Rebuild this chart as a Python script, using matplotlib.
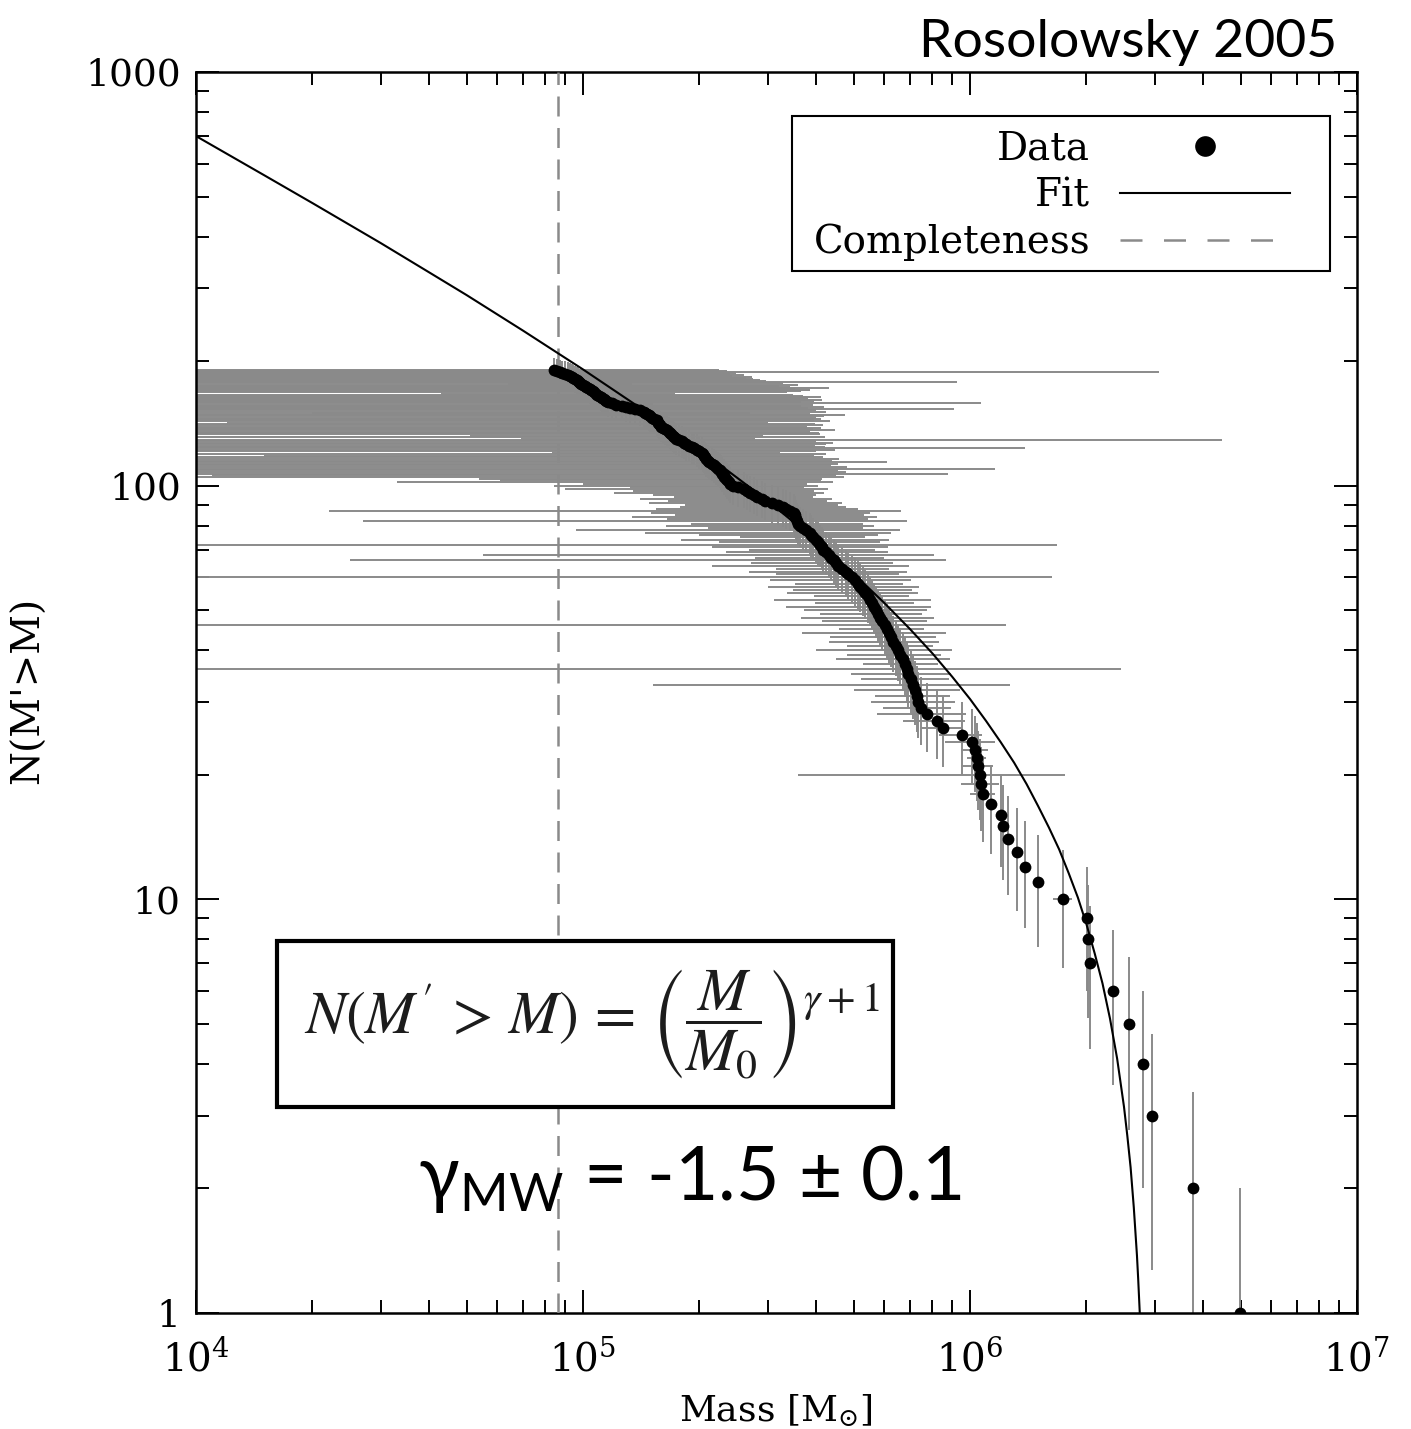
import numpy as np
import matplotlib
matplotlib.use('Agg')
import matplotlib.pyplot as plt
from matplotlib.patches import Rectangle
from matplotlib.lines import Line2D

# ---------------- data ----------------
# cloud masses (units of 1e5 Msun), sorted so that index i has N(M'>M) = i+1
mass_1e5 = [
    49.9, 37.7, 29.5, 28.0, 25.8, 23.4, 20.4, 20.2, 20.1, 17.4,
    15.0, 13.9, 13.2, 12.5, 12.2, 12.0, 11.3, 10.8, 10.7, 10.6,
    10.5, 10.4, 10.3, 10.1, 9.53, 8.52, 8.22, 7.74, 7.45, 7.35,
    7.28, 7.22, 7.12, 7.02, 6.92, 6.86, 6.78, 6.70, 6.60, 6.50,
    6.42, 6.33, 6.25, 6.18, 6.10, 6.02, 5.94, 5.86, 5.80, 5.72,
    5.64, 5.57, 5.52, 5.45, 5.36, 5.28, 5.20, 5.13, 5.04, 4.95,
    4.85, 4.78, 4.66, 4.56, 4.51, 4.45, 4.38, 4.31, 4.24, 4.18,
    4.15, 4.09, 4.04, 3.99, 3.94, 3.89, 3.85, 3.78, 3.70, 3.64,
    3.60, 3.57, 3.55, 3.54, 3.53, 3.50, 3.42, 3.34, 3.28, 3.20,
    3.08, 2.96, 2.90, 2.82, 2.76, 2.70, 2.65, 2.60, 2.52, 2.44,
    2.40, 2.38, 2.36, 2.34, 2.32, 2.31, 2.29, 2.27, 2.26, 2.23,
    2.21, 2.18, 2.15, 2.12, 2.10, 2.08, 2.07, 2.05, 2.04, 2.03,
    2.00, 1.97, 1.94, 1.91, 1.88, 1.85, 1.82, 1.80, 1.77, 1.74,
    1.72, 1.71, 1.69, 1.68, 1.67, 1.65, 1.63, 1.61, 1.59, 1.58,
    1.57, 1.56, 1.55, 1.55, 1.53, 1.51, 1.49, 1.48, 1.46, 1.45,
    1.44, 1.40, 1.36, 1.32, 1.29, 1.26, 1.22, 1.19, 1.16, 1.15,
    1.14, 1.13, 1.12, 1.11, 1.10, 1.09, 1.08, 1.07, 1.06, 1.05,
    1.04, 1.03, 1.02, 1.01, 1.00, 0.99, 0.985, 0.978, 0.970, 0.965,
    0.955, 0.945, 0.935, 0.925, 0.912, 0.900, 0.885, 0.870, 0.855, 0.841,
]
# mass uncertainties (units of 1e5 Msun), same order
mass_err_1e5 = [
    0, 0, 0, 0, 0, 0, 0, 0, 0, 1.0,
    0, 0, 0, 0, 0, 0, 0, 0.8, 1.2, 7.0,
    1.0, 0.6, 0.8, 1.5, 1.2, 1.0, 1.5, 2.0, 1.5, 1.8,
    1.6, 2.2, 5.6, 1.8, 2.0, 17.7, 1.5, 2.2, 1.8, 2.5,
    1.6, 2.0, 1.9, 2.5, 1.5, 6.4, 1.8, 2.2, 1.7, 2.0,
    2.3, 1.6, 2.4, 1.5, 2.0, 1.8, 2.2, 1.6, 2.0, 11.3,
    1.7, 2.1, 1.5, 2.4, 1.8, 4.2, 1.6, 3.76, 1.9, 1.5,
    2.0, 12.7, 1.8, 2.2, 1.4, 1.9, 2.4, 2.82, 1.6, 2.0,
    1.7, 3.3, 1.9, 2.2, 1.8, 2.0, 3.2, 1.8, 1.5, 1.36,
    1.6, 1.3, 1.5, 1.1, 1.24, 1.5, 1.3, 1.7, 1.2, 1.6,
    1.4, 2.05, 1.75, 1.8, 2.4, 2.2, 6.5, 2.5, 2.3, 9.4,
    2.6, 2.2, 2.4, 3.99, 2.3, 2.5, 2.1, 1.9, 2.2, 1.2,
    2.0, 2.5, 11.9, 2.3, 2.1, 2.4, 2.6, 2.2, 43.0, 1.05,
    2.5, 1.2, 2.4, 2.4, 2.2, 2.83, 2.3, 2.5, 2.2, 2.6,
    2.4, 1.44, 2.8, 2.4, 2.6, 2.5, 2.7, 3.27, 2.4, 1.25,
    2.8, 2.6, 7.75, 2.5, 2.9, 2.4, 2.7, 9.5, 2.5, 2.8,
    3.0, 2.5, 2.7, 3.0, 2.6, 2.4, 0.65, 2.3, 2.6, 2.8,
    2.5, 3.3, 2.4, 2.2, 2.6, 0.35, 2.3, 8.3, 2.0, 1.9,
    1.8, 1.7, 1.8, 1.5, 1.7, 1.5, 1.6, 30.0, 1.5, 1.4,
]
# truncated power-law fit (gamma = -1.5), sampled off the curve
fit_mass = [1.0e4, 1.5e4, 2.0e4, 3.0e4, 4.0e4, 5.0e4, 7.0e4, 1.0e5, 1.5e5,
            2.0e5, 3.0e5, 4.0e5, 5.0e5, 6.0e5, 7.0e5, 8.0e5, 9.0e5, 1.0e6,
            1.1e6, 1.2e6, 1.3e6, 1.4e6, 1.5e6, 1.6e6, 1.7e6, 1.8e6, 1.9e6,
            2.0e6, 2.1e6, 2.2e6, 2.3e6, 2.4e6, 2.5e6, 2.55e6, 2.6e6, 2.65e6,
            2.7e6, 2.72e6, 2.75e6]
fit_count = [700, 563, 482, 386, 328, 289, 237, 191, 148,
             122.4, 91.9, 73.7, 61.3, 52.1, 45.0, 39.3, 34.5, 30.5,
             27.0, 24.0, 21.4, 19.0, 16.8, 14.9, 13.2, 11.55, 10.1,
             8.7, 7.4, 6.26, 5.15, 4.12, 3.15, 2.68, 2.25, 1.80,
             1.38, 1.21, 0.97]
completeness_mass = 8.6e4

x_ticks = [1e4, 1e5, 1e6, 1e7]
x_tick_labels = [r'$10^{4}$', r'$10^{5}$', r'$10^{6}$', r'$10^{7}$']
y_ticks = [1, 10, 100, 1000]
y_tick_labels = ['1', '10', '100', '1000']

# ---------------- style ----------------
plt.rcParams['font.family'] = ['DejaVu Serif']
plt.rcParams['mathtext.fontset'] = 'custom'
plt.rcParams['mathtext.rm'] = 'Lato'
plt.rcParams['mathtext.it'] = 'Lato:italic'
plt.rcParams['mathtext.bf'] = 'Lato:bold'

W, H = 1411, 1429
fig = plt.figure(figsize=(W / 100, H / 100), dpi=100)
L, R, T, B = 196, 1357, 72, 1313
ax = fig.add_axes([L / W, 1 - B / H, (R - L) / W, (B - T) / H])

masses = np.array(mass_1e5) * 1e5
mass_err = np.array(mass_err_1e5) * 1e5
counts = np.arange(1, len(masses) + 1)
count_err = np.sqrt(counts)

ax.set_xscale('log')
ax.set_yscale('log')
ax.set_xlim(1e4, 1e7)
ax.set_ylim(1, 1000)

err_col = '#8a8a8a'
ax.errorbar(masses, counts, xerr=mass_err, yerr=count_err, fmt='none',
            ecolor=err_col, elinewidth=1.4, capsize=0, zorder=2)
dash_col = '#8a8a8a'
compl = ax.axvline(completeness_mass, color=dash_col, lw=1.8,
                   dashes=(8.0, 4.6), zorder=3)
fit_line, = ax.plot(fit_mass, fit_count, color='black', lw=1.5, zorder=4,
                    label='Fit')
dots, = ax.plot(masses, counts, 'o', color='black', ms=8.5, mew=0,
                zorder=5, label='Data')
compl_handle = Line2D([], [], color=dash_col, lw=1.8, dashes=(8.8, 8.6),
                      label='Completeness')

# ticks
ax.set_xticks(x_ticks)
ax.set_xticklabels(x_tick_labels)
ax.set_yticks(y_ticks)
ax.set_yticklabels(y_tick_labels)
ax.tick_params(which='both', direction='in', top=True, right=True,
               width=1.4, color='black')
ax.tick_params(which='major', length=16.5)
ax.tick_params(which='minor', length=9.4)
ax.tick_params(axis='x', which='major', pad=19, labelsize=28)
ax.tick_params(axis='y', which='major', pad=11, labelsize=27)
for lbl in ax.get_xticklabels():
    lbl.set_math_fontfamily('dejavuserif')
for s in ax.spines.values():
    s.set_linewidth(1.8)

ax.set_xlabel(r'Mass [M$_{\odot}$]', fontsize=26, math_fontfamily='dejavuserif')
ax.xaxis.set_label_coords(0.4996, -0.064)
ax.set_ylabel("N(M'>M)", fontsize=28)
ax.yaxis.set_label_coords(-0.128, 0.502)

# legend (text right-aligned, handles on the right)
leg = ax.legend(handles=[dots, fit_line, compl_handle], loc='upper right',
                bbox_to_anchor=((1290 - L) / (R - L), (B - 131) / (B - T)),
                frameon=False, markerfirst=False, borderpad=0,
                borderaxespad=0, fontsize=28, handlelength=4.37,
                handletextpad=0.77, labelspacing=0.24, markerscale=1.75)
leg.set_zorder(12)
ax.add_patch(Rectangle(((792 - L) / (R - L), (B - 271) / (B - T)),
                       (1330 - 792) / (R - L), (271 - 116) / (B - T),
                       transform=ax.transAxes, fc='white', ec='black',
                       lw=1.5, zorder=11))

# equation box
ax.add_patch(Rectangle(((277 - L) / (R - L), (B - 1107) / (B - T)),
                       (893 - 277) / (R - L), (1107 - 941) / (B - T),
                       transform=ax.transAxes, fc='white', ec='black',
                       lw=3.0, zorder=11))
ax.text((592 - L) / (R - L), (B - 1024) / (B - T),
        r"$N(M^{\prime}\,>\,M)\,=\,\left(\dfrac{M}{M_0}\right)^{\gamma+1}$",
        transform=ax.transAxes, ha='center', va='center', fontsize=43,
        math_fontfamily='stix', color='#1c1c1c', zorder=12)

ax.text((690 - L) / (R - L), (B - 1200) / (B - T),
        r'γ$_{\mathrm{MW}}$ = -1.5 ± 0.1', transform=ax.transAxes,
        ha='center', va='baseline', fontsize=54,
        family=['Lato', 'DejaVu Sans'], color='black', zorder=12)

fig.text(1337 / W, 1 - 57 / H, 'Rosolowsky 2005', ha='right', va='baseline',
         fontsize=38.5, family=['Lato', 'DejaVu Sans'], color='black')

fig.savefig('out.png', dpi=100, facecolor='white')
